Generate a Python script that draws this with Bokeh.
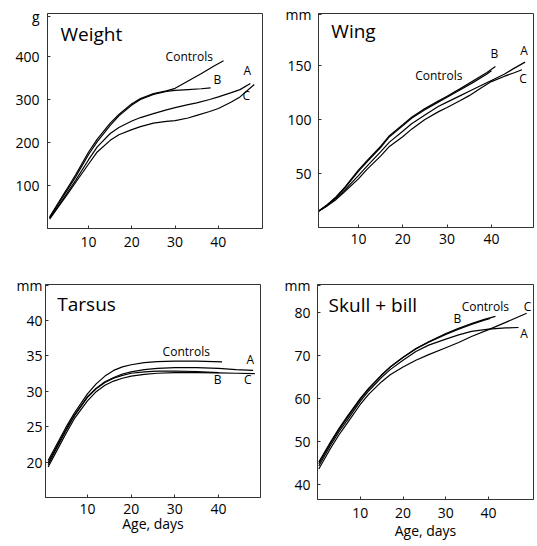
from bokeh.plotting import figure
from bokeh.layouts import column, row
from bokeh.models import Label, FixedTicker, Range1d
from bokeh.embed import file_html
from bokeh.resources import INLINE

FONT = "Open Sans"

# ---------------- Weight (g) ----------------
w_ctrl_day = [1, 3, 5, 7, 10, 12, 15, 17, 20, 22, 25, 28, 30, 33, 36, 39, 41.2]
w_ctrl = [27, 60, 92, 125, 178, 208, 245, 265, 290, 302, 314, 320, 326, 343, 360, 378, 390]
w_b_day = [1, 3, 5, 7, 10, 12, 15, 17, 20, 22, 25, 28, 30, 33, 36, 38.2]
w_b = [25, 57, 88, 120, 172, 202, 240, 262, 287, 300, 312, 319, 321, 323, 325, 327]
w_a_day = [1, 3, 5, 7, 10, 12, 15, 17, 20, 22, 25, 28, 30, 33, 35, 38, 40, 43, 45, 47.4]
w_a = [24, 52, 82, 112, 160, 190, 221, 235, 250, 258, 267, 276, 281, 288, 292, 300, 306, 316, 323, 337]
w_c_day = [1, 3, 5, 7, 10, 12, 15, 17, 20, 22, 25, 28, 30, 33, 35, 38, 40, 43, 45, 48.3]
w_c = [22, 50, 78, 107, 150, 178, 205, 218, 230, 237, 245, 249, 251, 257, 263, 272, 279, 294, 306, 335]
w_yticks = [100, 200, 300, 400]
w_unit_at = 494

# ---------------- Wing (mm) ----------------
g_ctrl_day = [1, 3, 5, 7, 10, 12, 15, 17, 20, 22, 25, 28, 30, 33, 36, 39, 40]
g_ctrl = [15, 21, 28, 37, 52, 61, 74, 84, 94, 101, 109, 116, 120.5, 127.5, 134.5, 142, 145]
g_b_day = [1, 3, 5, 7, 10, 12, 15, 17, 20, 22, 25, 28, 30, 33, 36, 39, 40.9]
g_b = [15, 21, 28.5, 37.5, 53, 62, 75, 85, 95, 102, 110, 117, 121.5, 128.5, 136, 143.5, 149]
g_a_day = [1, 3, 5, 7, 10, 12, 15, 17, 20, 22, 25, 28, 30, 33, 35, 38, 40, 43, 45, 47.6]
g_a = [15, 20.5, 27, 35, 48, 57, 70, 79, 89, 96, 104, 112, 116, 122, 126, 132, 136, 142, 147, 153]
g_c_day = [1, 3, 5, 7, 10, 12, 15, 17, 20, 22, 25, 28, 30, 33, 35, 38, 40, 43, 45, 46.9]
g_c = [15, 20, 26, 33.5, 45, 54, 66, 75, 84, 91, 100, 107, 111, 117.5, 122, 130, 135, 140, 143, 146]
g_yticks = [50, 100, 150]
g_unit_at = 197

# ---------------- Tarsus (mm) ----------------
t_ctrl_day = [1, 3, 5, 7, 10, 12, 14, 16, 18, 20, 23, 26, 30, 35, 40.8]
t_ctrl = [20.2, 22.5, 24.8, 26.9, 29.6, 31.0, 32.1, 32.9, 33.4, 33.7, 34.0, 34.15, 34.2, 34.2, 34.1]
t_a_day = [1, 3, 5, 7, 10, 12, 14, 16, 18, 20, 23, 26, 30, 35, 40, 44, 47.9]
t_a = [19.9, 22.2, 24.5, 26.6, 29.2, 30.4, 31.3, 31.9, 32.4, 32.7, 33.0, 33.2, 33.3, 33.3, 33.2, 33.0, 32.9]
t_b_day = [1, 3, 5, 7, 10, 12, 14, 16, 18, 20, 23, 26, 30, 35, 40]
t_b = [19.6, 22.0, 24.3, 26.5, 29.1, 30.3, 31.2, 31.8, 32.2, 32.5, 32.7, 32.8, 32.8, 32.75, 32.6]
t_c_day = [1, 3, 5, 7, 10, 12, 14, 16, 18, 20, 23, 26, 30, 35, 40, 44, 48.3]
t_c = [19.3, 21.6, 23.9, 26.1, 28.6, 29.9, 30.8, 31.4, 31.8, 32.1, 32.35, 32.5, 32.6, 32.6, 32.55, 32.5, 32.45]
t_yticks = [20, 25, 30, 35, 40]
t_unit_at = 44.8

# ---------------- Skull + bill (mm) ----------------
s_ctrl_day = [0.3, 3, 5, 7, 10, 12, 15, 17, 20, 23, 26, 30, 33, 36, 39, 41.6]
s_ctrl = [45.2, 49.8, 53, 55.9, 60, 62.4, 65.5, 67.3, 69.6, 71.6, 73.2, 75.1, 76.3, 77.4, 78.4, 79.1]
s_b_day = [0.3, 3, 5, 7, 10, 12, 15, 17, 20, 23, 26, 30, 33, 36, 39, 40.4]
s_b = [44.8, 49.5, 52.7, 55.6, 59.8, 62.3, 65.4, 67.3, 69.5, 71.5, 73.1, 74.9, 76.1, 77.2, 78.2, 78.6]
s_a_day = [0.3, 3, 5, 7, 10, 12, 15, 17, 20, 23, 26, 30, 33, 36, 40, 44, 47]
s_a = [44.3, 49, 52.2, 55, 59.3, 61.8, 64.9, 66.7, 68.9, 70.9, 72.4, 73.8, 74.8, 75.6, 76.1, 76.4, 76.5]
s_c_day = [0.3, 3, 5, 7, 10, 12, 15, 17, 20, 23, 26, 30, 33, 36, 40, 44, 48.9]
s_c = [43.6, 48.3, 51.5, 54.3, 58.6, 61.0, 63.9, 65.5, 67.3, 68.9, 70.2, 71.8, 73.0, 74.4, 76.0, 77.7, 79.8]
s_yticks = [40, 50, 60, 70, 80]
s_unit_at = 86.3

x_ticks = [10, 20, 30, 40]

LABEL_SHIFT = 7


def make_panel(title, unit, unit_at, xr, yr, yticks, series, labels, title_pos,
               fw, fh, borders, xstand, ystand, xlabel=None, xlab_stand=0):
    p = figure(frame_width=fw, frame_height=fh, x_range=Range1d(*xr), y_range=Range1d(*yr),
               output_backend="svg", toolbar_location=None,
               min_border_left=borders[0], min_border_right=borders[1],
               min_border_top=borders[2], min_border_bottom=borders[3])
    p.grid.visible = False
    p.outline_line_color = "#333333"
    p.outline_line_width = 1
    p.background_fill_color = "white"
    p.border_fill_color = "white"
    for ax in (p.xaxis[0], p.yaxis[0]):
        ax.major_tick_in = 3
        ax.major_tick_out = 0
        ax.minor_tick_in = 0
        ax.minor_tick_out = 0
        ax.axis_line_color = "#333333"
        ax.major_tick_line_color = "#333333"
        ax.major_label_text_font = FONT
        ax.major_label_text_font_size = "14px"
        ax.major_label_text_color = "black"
    p.xaxis.ticker = FixedTicker(ticks=x_ticks)
    p.yaxis.ticker = FixedTicker(ticks=yticks + [unit_at])
    p.yaxis.major_label_overrides = {unit_at: unit}
    p.xaxis.major_label_standoff = xstand
    p.yaxis.major_label_standoff = ystand
    if xlabel:
        p.xaxis.axis_label = xlabel
        p.xaxis.axis_label_text_font = FONT
        p.xaxis.axis_label_text_font_size = "14px"
        p.xaxis.axis_label_text_font_style = "normal"
        p.xaxis.axis_label_text_color = "black"
        p.xaxis.axis_label_standoff = xlab_stand
    for xs, ys in series:
        p.line(xs, ys, line_color="black", line_width=1.2)
    p.add_layout(Label(x=title_pos[0], y=title_pos[1], text=title, text_font=FONT,
                       text_font_size="19px", text_color="black", text_baseline="alphabetic",
                       y_offset=LABEL_SHIFT))
    for txt, lx, ly in labels:
        p.add_layout(Label(x=lx, y=ly, text=txt, text_font=FONT, text_font_size="12px",
                           text_color="black", text_baseline="alphabetic",
                           y_offset=LABEL_SHIFT))
    return p


p1 = make_panel("Weight", "g", w_unit_at, (0.5, 50.2), (0, 500), w_yticks,
                [(w_ctrl_day, w_ctrl), (w_b_day, w_b), (w_a_day, w_a), (w_c_day, w_c)],
                [("Controls", 27.8, 384), ("B", 38.9, 330), ("A", 45.8, 351), ("C", 45.6, 293)],
                (3.5, 437), 215, 215, (47, 6, 10, 35), 8, 8)

p2 = make_panel("Wing", "mm", g_unit_at, (1, 49.5), (0, 198), g_yticks,
                [(g_ctrl_day, g_ctrl), (g_b_day, g_b), (g_a_day, g_a), (g_c_day, g_c)],
                [("Controls", 22.8, 134.5), ("B", 39.8, 154.6), ("A", 46.5, 157), ("C", 46.3, 131.5)],
                (3.9, 175), 215, 214, (50, 4, 13, 33), 6, 7)

p3 = make_panel("Tarsus", "mm", t_unit_at, (0.4, 49.6), (15, 45), t_yticks,
                [(t_ctrl_day, t_ctrl), (t_a_day, t_a), (t_b_day, t_b), (t_c_day, t_c)],
                [("Controls", 27.2, 34.55), ("A", 46.4, 33.5), ("B", 38.9, 30.7), ("C", 45.8, 30.7)],
                (3.1, 41.2), 215, 213, (45, 8, 23, 50), 6, 3, xlabel="Age, days", xlab_stand=-3)

p4 = make_panel("Skull + bill", "mm", s_unit_at, (0.0, 50.5), (36.5, 86.5), s_yticks,
                [(s_ctrl_day, s_ctrl), (s_b_day, s_b), (s_a_day, s_a), (s_c_day, s_c)],
                [("Controls", 33.7, 79.7), ("B", 31.8, 77), ("C", 48.2, 79.7), ("A", 47.4, 73.5)],
                (2.6, 80.2), 216, 215, (49, 4, 24, 47), 8, 7, xlabel="Age, days", xlab_stand=0)

layout = column(row(p1, p2, spacing=0), row(p3, p4, spacing=0), spacing=0)

open("out.html", "w").write(file_html(layout, INLINE))
